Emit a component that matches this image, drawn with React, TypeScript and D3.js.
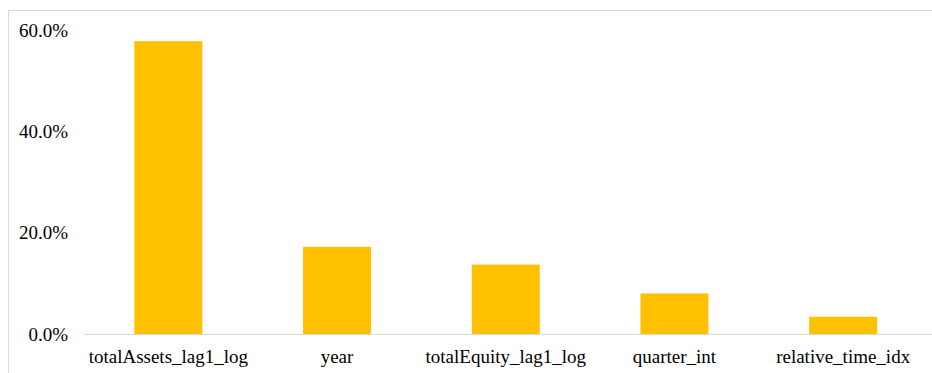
import React from "react";
import * as d3 from "d3";

// Feature importance shares (fraction of total)
const features = [
  "totalAssets_lag1_log",
  "year",
  "totalEquity_lag1_log",
  "quarter_int",
  "relative_time_idx",
];
const importance = [0.578, 0.172, 0.137, 0.08, 0.034];
const yTicks = [0, 0.2, 0.4, 0.6];

const W = 932;
const H = 373;
const margin = { left: 84, right: 4.5, top: 30, bottom: 39 };

export default function App() {
  const x = d3
    .scaleBand<string>()
    .domain(features)
    .range([margin.left, W - margin.right])
    .paddingInner(0.597)
    .paddingOuter(0.2985);
  const y = d3
    .scaleLinear()
    .domain([0, 0.6])
    .range([H - margin.bottom, margin.top]);
  const fmt = d3.format(".1%");
  const font = "'Liberation Serif', 'Times New Roman', serif";

  return (
    <svg
      width={W}
      height={H}
      style={{ position: "absolute", left: 0, top: 0, background: "#fff" }}
    >
      <rect
        x={8.5}
        y={10.5}
        width={W + 10}
        height={H + 10}
        fill="#fff"
        stroke="#d9d9d9"
        strokeWidth={1}
      />
      {features.map((f, i) => (
        <rect
          key={f}
          x={x(f)}
          y={y(importance[i])}
          width={x.bandwidth()}
          height={y(0) - y(importance[i])}
          fill="#FFC000"
        />
      ))}
      <line
        x1={margin.left}
        x2={W}
        y1={y(0) + 0.5}
        y2={y(0) + 0.5}
        stroke="#d9d9d9"
        strokeWidth={1}
      />
      {yTicks.map((t) => (
        <text
          key={t}
          x={68}
          y={y(t)}
          dy="0.35em"
          textAnchor="end"
          fontFamily={font}
          fontSize={19}
          fill="#000"
        >
          {fmt(t)}
        </text>
      ))}
      {features.map((f) => (
        <text
          key={f}
          x={(x(f) ?? 0) + x.bandwidth() / 2}
          y={363}
          textAnchor="middle"
          fontFamily={font}
          fontSize={19}
          fill="#000"
        >
          {f}
        </text>
      ))}
    </svg>
  );
}
